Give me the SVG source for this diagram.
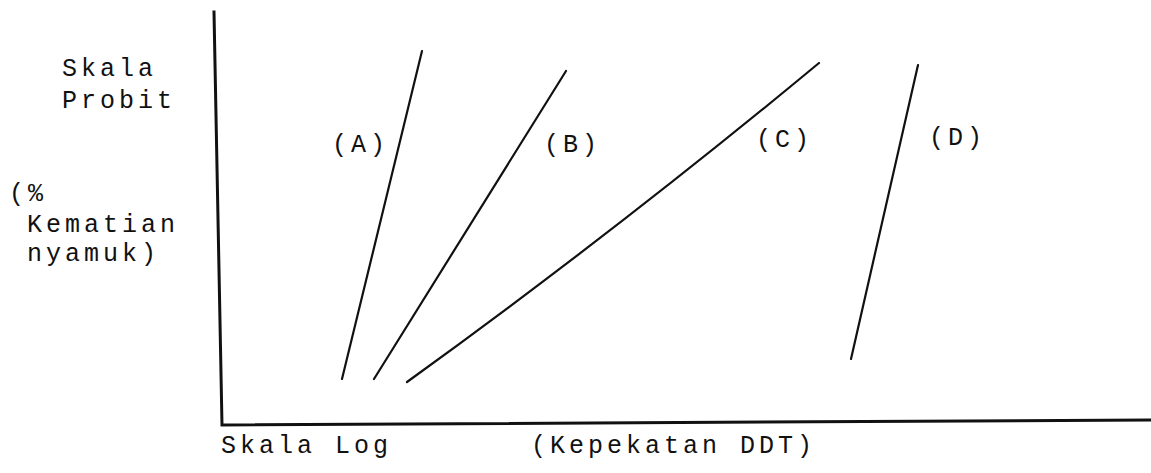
<svg xmlns="http://www.w3.org/2000/svg" width="1151" height="473" viewBox="0 0 1151 473">
  <style>
    .t { font-family: "Liberation Mono", "DejaVu Sans Mono", monospace; font-size: 25px; letter-spacing: 4px; fill: #111; }
    .ax { stroke: #111; stroke-width: 3; fill: none; stroke-linecap: square; }
    .ln { stroke: #111; stroke-width: 2.2; fill: none; stroke-linecap: round; }
  </style>
  <rect width="1151" height="473" fill="#fff"/>
  <g id="axes">
    <polyline class="ax" points="214,12 222,425 1151,420"/>
  </g>
  <g id="lines">
    <line id="line-A" class="ln" x1="342" y1="379" x2="422" y2="51"/>
    <line id="line-B" class="ln" x1="374" y1="379" x2="566" y2="71"/>
    <path id="line-C" class="ln" d="M407,382 Q620,228 819,63"/>
    <line id="line-D" class="ln" x1="851" y1="359" x2="918" y2="65"/>
  </g>
  <g id="y-label">
    <text class="t" x="62" y="76">Skala</text>
    <text class="t" x="62" y="108">Probit</text>
    <text class="t" x="9" y="201">(%</text>
    <text class="t" x="27" y="232">Kematian</text>
    <text class="t" x="27" y="261">nyamuk)</text>
  </g>
  <g id="curve-labels">
    <text class="t" x="332" y="152">(A)</text>
    <text class="t" x="544" y="152">(B)</text>
    <text class="t" x="756" y="147">(C)</text>
    <text class="t" x="929" y="145">(D)</text>
  </g>
  <g id="x-label">
    <text class="t" x="221" y="453">Skala Log</text>
    <text class="t" x="531" y="453">(Kepekatan DDT)</text>
  </g>
</svg>
